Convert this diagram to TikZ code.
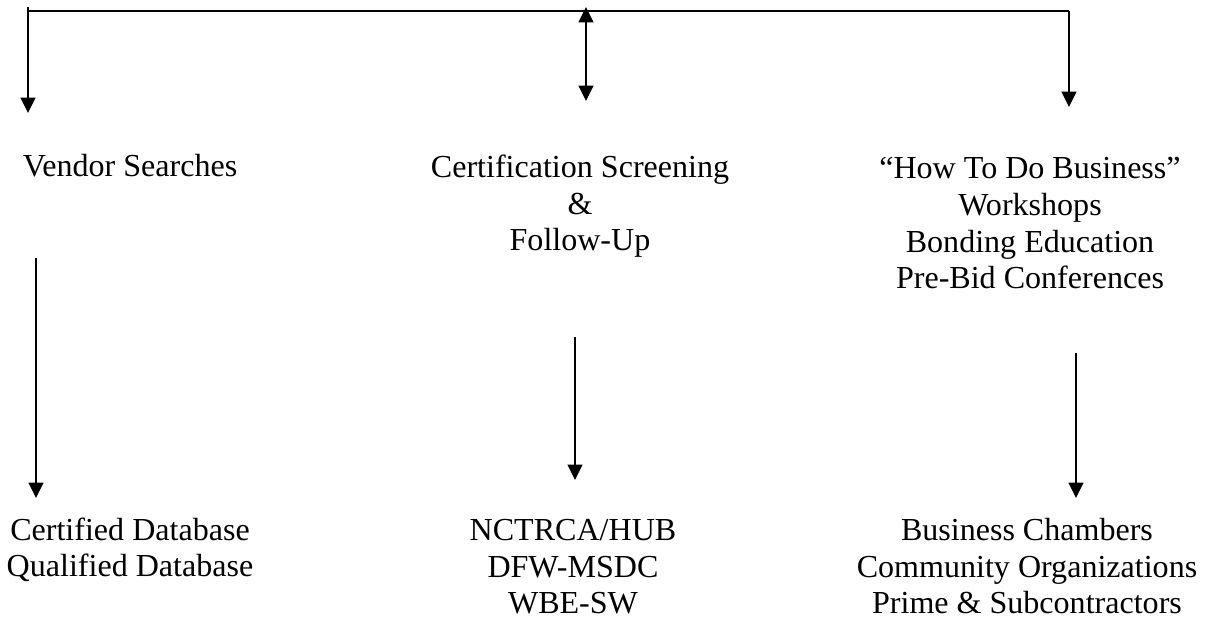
\documentclass[tikz,border=0pt]{standalone}
\usepackage{fontspec}
\setmainfont{Liberation Serif}
\usetikzlibrary{arrows.meta}
\begin{document}
\begin{tikzpicture}[
    lbl/.style={align=center, anchor=base, inner sep=0pt,
        font=\fontsize{22.8pt}{26.3pt}\selectfont},
    arr/.style={line width=1.3pt, -{Triangle[width=10.5pt,length=11pt]}},
    dbl/.style={line width=1.3pt, {Triangle[width=10.5pt,length=11pt]}-{Triangle[width=10.5pt,length=11pt]}}
    ]
                \useasboundingbox (0,0) rectangle (30.3,15.475);

                % top bar
                \coordinate (topL) at (0.7,15.3);
                \coordinate (cornL) at (0.7,15.19);
                \coordinate (cornR) at (26.725,15.19);
                \coordinate (tipL) at (0.7,12.65);
                \coordinate (tipR) at (26.725,12.8);
                \coordinate (midT) at (14.65,15.3);
                \coordinate (midB) at (14.65,12.95);

                \draw[line width=1.3pt] (cornL) -- (cornR);
                \draw[arr] (topL) -- (tipL);
                \draw[arr] (cornR) -- (tipR);
                \draw[dbl] (midT) -- (midB);

                % first row (base = last line)
                \node[lbl] (vendor) at (3.25,11.05) {Vendor Searches};
                \node[lbl] (cert) at (14.5,9.2) {Certification Screening\\ \&\\ Follow-Up};
                \node[lbl] (howto) at (25.75,8.25) {``How To Do Business''\\ Workshops\\ Bonding Education\\ Pre-Bid Conferences};

                % second row
                \node[lbl] (dbase) at (3.25,1.05) {Certified Database\\ Qualified Database};
                \node[lbl] (agency) at (14.325,0.125) {NCTRCA/HUB\\ DFW-MSDC\\ WBE-SW};
                \node[lbl] (chamber) at (25.675,0.125) {Business Chambers\\ Community Organizations\\ Prime \& Subcontractors};

                % lower arrows
                \coordinate (vendorS) at (0.9,9.025);
                \coordinate (vendorE) at (0.9,3.025);
                \coordinate (certS) at (14.375,7.05);
                \coordinate (certE) at (14.375,3.475);
                \coordinate (howtoS) at (26.9,6.65);
                \coordinate (howtoE) at (26.9,3.025);

                \draw[arr] (vendorS) -- (vendorE);
                \draw[arr] (certS) -- (certE);
                \draw[arr] (howtoS) -- (howtoE);
\end{tikzpicture}
\end{document}
